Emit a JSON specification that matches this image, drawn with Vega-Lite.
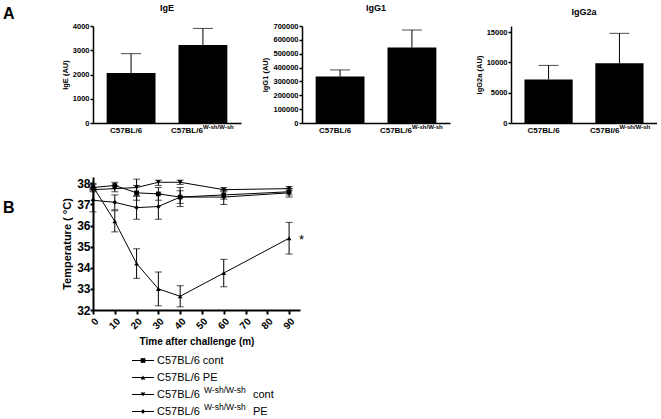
{
  "$schema": "https://vega.github.io/schema/vega-lite/v6.json",
  "padding": {"left": 3, "top": 4, "right": 0, "bottom": 0},
  "background": "white",
  "config": {
    "font": "Liberation Sans",
    "view": {"stroke": null},
    "axis": {"grid": false, "domainColor": "black", "tickColor": "black", "labelColor": "black", "titleColor": "black", "labelFont": "Liberation Sans", "titleFont": "Liberation Sans", "labelFontWeight": "bold", "titleFontWeight": "bold", "labelOverlap": false},
    "title": {"font": "Liberation Sans", "fontWeight": "bold", "color": "black"},
    "text": {"font": "Liberation Sans", "color": "black"}
  },
  "datasets": {
    "antibody": [
      {"panel": "IgE", "strain": "C57BL/6", "value": 2060, "upper": 2860, "sup": ""},
      {"panel": "IgE", "strain": "C57BL/6^W-sh/W-sh", "value": 3220, "upper": 3900, "sup": "W-sh/W-sh"},
      {"panel": "IgG1", "strain": "C57BL/6", "value": 335000, "upper": 383000, "sup": ""},
      {"panel": "IgG1", "strain": "C57BL/6^W-sh/W-sh", "value": 544000, "upper": 671000, "sup": "W-sh/W-sh"},
      {"panel": "IgG2a", "strain": "C57BL/6", "value": 7190, "upper": 9500, "sup": ""},
      {"panel": "IgG2a", "strain": "C57Bl/6^W-sh/W-sh", "value": 9860, "upper": 14790, "sup": "W-sh/W-sh"}
    ],
    "temperature": [
      {"group": "C57BL/6 cont", "time": 0, "temp": 37.8, "lo": 37.65, "hi": 37.95},
      {"group": "C57BL/6 cont", "time": 10, "temp": 37.9, "lo": 37.75, "hi": 38.05},
      {"group": "C57BL/6 cont", "time": 20, "temp": 37.55, "lo": 37.2, "hi": 37.9},
      {"group": "C57BL/6 cont", "time": 30, "temp": 37.5, "lo": 37.2, "hi": 37.8},
      {"group": "C57BL/6 cont", "time": 40, "temp": 37.35, "lo": 37.05, "hi": 37.65},
      {"group": "C57BL/6 cont", "time": 60, "temp": 37.45, "lo": 37.25, "hi": 37.65},
      {"group": "C57BL/6 cont", "time": 90, "temp": 37.6, "lo": 37.45, "hi": 37.75},
      {"group": "C57BL/6 PE", "time": 0, "temp": 37.85, "lo": 37.7, "hi": 38.0},
      {"group": "C57BL/6 PE", "time": 10, "temp": 36.2, "lo": 35.7, "hi": 36.7},
      {"group": "C57BL/6 PE", "time": 20, "temp": 34.2, "lo": 33.5, "hi": 34.9},
      {"group": "C57BL/6 PE", "time": 30, "temp": 33.0, "lo": 32.2, "hi": 33.8},
      {"group": "C57BL/6 PE", "time": 40, "temp": 32.65, "lo": 32.15, "hi": 33.15},
      {"group": "C57BL/6 PE", "time": 60, "temp": 33.75, "lo": 33.1, "hi": 34.4},
      {"group": "C57BL/6 PE", "time": 90, "temp": 35.4, "lo": 34.65, "hi": 36.15},
      {"group": "C57BL/6 W-sh/W-sh cont", "time": 0, "temp": 37.7, "lo": 37.6, "hi": 37.8},
      {"group": "C57BL/6 W-sh/W-sh cont", "time": 10, "temp": 37.75, "lo": 37.6, "hi": 37.9},
      {"group": "C57BL/6 W-sh/W-sh cont", "time": 20, "temp": 37.8, "lo": 37.4, "hi": 38.2},
      {"group": "C57BL/6 W-sh/W-sh cont", "time": 30, "temp": 38.05, "lo": 37.9, "hi": 38.15},
      {"group": "C57BL/6 W-sh/W-sh cont", "time": 40, "temp": 38.05, "lo": 37.95, "hi": 38.15},
      {"group": "C57BL/6 W-sh/W-sh cont", "time": 60, "temp": 37.7, "lo": 37.6, "hi": 37.8},
      {"group": "C57BL/6 W-sh/W-sh cont", "time": 90, "temp": 37.75, "lo": 37.65, "hi": 37.85},
      {"group": "C57BL/6 W-sh/W-sh PE", "time": 0, "temp": 37.2, "lo": 36.65, "hi": 37.75},
      {"group": "C57BL/6 W-sh/W-sh PE", "time": 10, "temp": 37.1, "lo": 36.75, "hi": 37.45},
      {"group": "C57BL/6 W-sh/W-sh PE", "time": 20, "temp": 36.85, "lo": 36.3, "hi": 37.4},
      {"group": "C57BL/6 W-sh/W-sh PE", "time": 30, "temp": 36.9, "lo": 36.3, "hi": 37.5},
      {"group": "C57BL/6 W-sh/W-sh PE", "time": 40, "temp": 37.35, "lo": 36.9, "hi": 37.8},
      {"group": "C57BL/6 W-sh/W-sh PE", "time": 60, "temp": 37.35, "lo": 37.0, "hi": 37.7},
      {"group": "C57BL/6 W-sh/W-sh PE", "time": 90, "temp": 37.55, "lo": 37.35, "hi": 37.75}
    ],
    "legendrows": [
      {"group": "C57BL/6 cont", "main": "C57BL/6 cont", "sup": "", "suffix": ""},
      {"group": "C57BL/6 PE", "main": "C57BL/6 PE", "sup": "", "suffix": ""},
      {"group": "C57BL/6 W-sh/W-sh cont", "main": "C57BL/6", "sup": "W-sh/W-sh", "suffix": "cont"},
      {"group": "C57BL/6 W-sh/W-sh PE", "main": "C57BL/6", "sup": "W-sh/W-sh", "suffix": "PE"}
    ]
  },
  "spacing": 43,
  "vconcat": [
    {
      "title": {"text": "A", "anchor": "start", "frame": "group", "fontSize": 16, "dx": -90, "dy": 18, "offset": 0},
      "bounds": "flush",
      "spacing": 61,
      "hconcat": [
        {
          "width": 148, "height": 97,
          "title": {"text": "IgE", "fontSize": 9, "offset": 9, "frame": "group"},
          "data": {"name": "antibody"},
          "transform": [{"filter": "datum.panel === 'IgE'"}],
          "encoding": {
            "x": {"field": "strain", "type": "nominal", "sort": null, "scale": {"paddingInner": 0.32, "paddingOuter": 0.19},
              "axis": {"title": null, "labelExpr": "split(datum.value, '^')[0]", "labelAngle": 0, "labelFontSize": 8, "ticks": false, "labelPadding": 3, "domainWidth": 1.5,
                "labelAlign": {"condition": {"test": "indexof(datum.value, '^') >= 0", "value": "right"}, "value": "center"},
                "labelOffset": {"condition": {"test": "indexof(datum.value, '^') >= 0", "value": 0}, "value": -5}}}
          },
          "layer": [
            {"mark": {"type": "bar", "color": "black"},
             "encoding": {"y": {"field": "value", "type": "quantitative", "title": "IgE (AU)", "scale": {"domain": [0, 4000]},
               "axis": {"values": [0, 1000, 2000, 3000, 4000], "format": "d", "labelFontSize": 7.5, "titleFontSize": 7.5, "tickSize": 3, "labelPadding": 1, "titlePadding": 3, "domainWidth": 1.5, "tickWidth": 1.5}}}},
            {"mark": {"type": "rule", "color": "black", "strokeWidth": 1}, "encoding": {"y": {"field": "value", "type": "quantitative", "title": "IgE (AU)",
               "axis": {"values": [0, 1000, 2000, 3000, 4000], "format": "d", "labelFontSize": 7.5, "titleFontSize": 7.5, "tickSize": 3, "labelPadding": 1, "titlePadding": 3, "domainWidth": 1.5, "tickWidth": 1.5}}, "y2": {"field": "upper"}}},
            {"mark": {"type": "tick", "orient": "horizontal", "size": 20, "thickness": 1, "color": "black"}, "encoding": {"y": {"field": "upper", "type": "quantitative", "title": "IgE (AU)",
               "axis": {"values": [0, 1000, 2000, 3000, 4000], "format": "d", "labelFontSize": 7.5, "titleFontSize": 7.5, "tickSize": 3, "labelPadding": 1, "titlePadding": 3, "domainWidth": 1.5, "tickWidth": 1.5}}}},
            {"mark": {"type": "text", "align": "left", "baseline": "top", "fontSize": 6, "fontWeight": "bold", "dy": 1}, "encoding": {"y": {"datum": 0, "type": "quantitative", "title": "IgE (AU)",
               "axis": {"values": [0, 1000, 2000, 3000, 4000], "format": "d", "labelFontSize": 7.5, "titleFontSize": 7.5, "tickSize": 3, "labelPadding": 1, "titlePadding": 3, "domainWidth": 1.5, "tickWidth": 1.5}}, "text": {"field": "sup"}}}
          ]
        },
        {
          "width": 148, "height": 97,
          "title": {"text": "IgG1", "fontSize": 9, "offset": 9, "frame": "group"},
          "data": {"name": "antibody"},
          "transform": [{"filter": "datum.panel === 'IgG1'"}],
          "encoding": {
            "x": {"field": "strain", "type": "nominal", "sort": null, "scale": {"paddingInner": 0.32, "paddingOuter": 0.19},
              "axis": {"title": null, "labelExpr": "split(datum.value, '^')[0]", "labelAngle": 0, "labelFontSize": 8, "ticks": false, "labelPadding": 3, "domainWidth": 1.5,
                "labelAlign": {"condition": {"test": "indexof(datum.value, '^') >= 0", "value": "right"}, "value": "center"},
                "labelOffset": {"condition": {"test": "indexof(datum.value, '^') >= 0", "value": 0}, "value": -5}}}
          },
          "layer": [
            {"mark": {"type": "bar", "color": "black"},
             "encoding": {"y": {"field": "value", "type": "quantitative", "title": "IgG1 (AU)", "scale": {"domain": [0, 700000]},
               "axis": {"values": [0, 100000, 200000, 300000, 400000, 500000, 600000, 700000], "format": "d", "labelFontSize": 7.5, "titleFontSize": 7.5, "tickSize": 3, "labelPadding": 1, "titlePadding": 3, "domainWidth": 1.5, "tickWidth": 1.5}}}},
            {"mark": {"type": "rule", "color": "black", "strokeWidth": 1}, "encoding": {"y": {"field": "value", "type": "quantitative", "title": "IgG1 (AU)",
               "axis": {"values": [0, 100000, 200000, 300000, 400000, 500000, 600000, 700000], "format": "d", "labelFontSize": 7.5, "titleFontSize": 7.5, "tickSize": 3, "labelPadding": 1, "titlePadding": 3, "domainWidth": 1.5, "tickWidth": 1.5}}, "y2": {"field": "upper"}}},
            {"mark": {"type": "tick", "orient": "horizontal", "size": 20, "thickness": 1, "color": "black"}, "encoding": {"y": {"field": "upper", "type": "quantitative", "title": "IgG1 (AU)",
               "axis": {"values": [0, 100000, 200000, 300000, 400000, 500000, 600000, 700000], "format": "d", "labelFontSize": 7.5, "titleFontSize": 7.5, "tickSize": 3, "labelPadding": 1, "titlePadding": 3, "domainWidth": 1.5, "tickWidth": 1.5}}}},
            {"mark": {"type": "text", "align": "left", "baseline": "top", "fontSize": 6, "fontWeight": "bold", "dy": 1}, "encoding": {"y": {"datum": 0, "type": "quantitative", "title": "IgG1 (AU)",
               "axis": {"values": [0, 100000, 200000, 300000, 400000, 500000, 600000, 700000], "format": "d", "labelFontSize": 7.5, "titleFontSize": 7.5, "tickSize": 3, "labelPadding": 1, "titlePadding": 3, "domainWidth": 1.5, "tickWidth": 1.5}}, "text": {"field": "sup"}}}
          ]
        },
        {
          "width": 146, "height": 97,
          "title": {"text": "IgG2a", "fontSize": 9, "offset": 9, "frame": "group"},
          "data": {"name": "antibody"},
          "transform": [{"filter": "datum.panel === 'IgG2a'"}],
          "encoding": {
            "x": {"field": "strain", "type": "nominal", "sort": null, "scale": {"paddingInner": 0.32, "paddingOuter": 0.19},
              "axis": {"title": null, "labelExpr": "split(datum.value, '^')[0]", "labelAngle": 0, "labelFontSize": 8, "ticks": false, "labelPadding": 3, "domainWidth": 1.5,
                "labelAlign": {"condition": {"test": "indexof(datum.value, '^') >= 0", "value": "right"}, "value": "center"},
                "labelOffset": {"condition": {"test": "indexof(datum.value, '^') >= 0", "value": 0}, "value": -5}}}
          },
          "layer": [
            {"mark": {"type": "bar", "color": "black"},
             "encoding": {"y": {"field": "value", "type": "quantitative", "title": "IgG2a (AU)", "scale": {"domain": [0, 15000]},
               "axis": {"values": [0, 5000, 10000, 15000], "format": "d", "labelFontSize": 7.5, "titleFontSize": 7.5, "tickSize": 3, "labelPadding": 1, "titlePadding": 3, "domainWidth": 1.5, "tickWidth": 1.5}}}},
            {"mark": {"type": "rule", "color": "black", "strokeWidth": 1}, "encoding": {"y": {"field": "value", "type": "quantitative", "title": "IgG2a (AU)",
               "axis": {"values": [0, 5000, 10000, 15000], "format": "d", "labelFontSize": 7.5, "titleFontSize": 7.5, "tickSize": 3, "labelPadding": 1, "titlePadding": 3, "domainWidth": 1.5, "tickWidth": 1.5}}, "y2": {"field": "upper"}}},
            {"mark": {"type": "tick", "orient": "horizontal", "size": 20, "thickness": 1, "color": "black"}, "encoding": {"y": {"field": "upper", "type": "quantitative", "title": "IgG2a (AU)",
               "axis": {"values": [0, 5000, 10000, 15000], "format": "d", "labelFontSize": 7.5, "titleFontSize": 7.5, "tickSize": 3, "labelPadding": 1, "titlePadding": 3, "domainWidth": 1.5, "tickWidth": 1.5}}}},
            {"mark": {"type": "text", "align": "left", "baseline": "top", "fontSize": 6, "fontWeight": "bold", "dy": 1}, "encoding": {"y": {"datum": 0, "type": "quantitative", "title": "IgG2a (AU)",
               "axis": {"values": [0, 5000, 10000, 15000], "format": "d", "labelFontSize": 7.5, "titleFontSize": 7.5, "tickSize": 3, "labelPadding": 1, "titlePadding": 3, "domainWidth": 1.5, "tickWidth": 1.5}}, "text": {"field": "sup"}}}
          ]
        }
      ]
    },
    {
      "spacing": 4,
      "vconcat": [
        {
          "width": 207, "height": 133,
          "title": {"text": "B", "anchor": "start", "frame": "group", "fontSize": 16, "dx": -90, "dy": 43},
          "data": {"name": "temperature"},
          "encoding": {
            "x": {"field": "time", "type": "quantitative", "title": "Time after challenge (m)", "scale": {"domain": [0, 95]},
              "axis": {"values": [0, 10, 20, 30, 40, 50, 60, 70, 80, 90], "labelAngle": -45, "labelFontSize": 10, "titleFontSize": 10, "tickSize": 4, "tickWidth": 2, "domainWidth": 2, "labelPadding": 2, "titlePadding": 6}},
            "y": {"field": "temp", "type": "quantitative", "title": "Temperature ( °C)", "scale": {"domain": [32, 38.3]},
              "axis": {"values": [32, 33, 34, 35, 36, 37, 38], "labelFontSize": 12, "titleFontSize": 11, "tickSize": 3, "tickWidth": 2, "domainWidth": 2, "labelPadding": 0, "titlePadding": 4}}
          },
          "layer": [
            {"mark": {"type": "line", "color": "black", "strokeWidth": 1}, "encoding": {"detail": {"field": "group"}}},
            {"mark": {"type": "rule", "color": "black", "strokeWidth": 1}, "encoding": {"y": {"field": "lo", "type": "quantitative", "title": "Temperature ( °C)",
               "axis": {"values": [32, 33, 34, 35, 36, 37, 38], "labelFontSize": 12, "titleFontSize": 11, "tickSize": 3, "tickWidth": 2, "domainWidth": 2, "labelPadding": 0, "titlePadding": 4}}, "y2": {"field": "hi"}}},
            {"mark": {"type": "tick", "orient": "horizontal", "size": 7, "thickness": 1, "color": "black"}, "encoding": {"y": {"field": "lo", "type": "quantitative", "title": "Temperature ( °C)",
               "axis": {"values": [32, 33, 34, 35, 36, 37, 38], "labelFontSize": 12, "titleFontSize": 11, "tickSize": 3, "tickWidth": 2, "domainWidth": 2, "labelPadding": 0, "titlePadding": 4}}}},
            {"mark": {"type": "tick", "orient": "horizontal", "size": 7, "thickness": 1, "color": "black"}, "encoding": {"y": {"field": "hi", "type": "quantitative", "title": "Temperature ( °C)",
               "axis": {"values": [32, 33, 34, 35, 36, 37, 38], "labelFontSize": 12, "titleFontSize": 11, "tickSize": 3, "tickWidth": 2, "domainWidth": 2, "labelPadding": 0, "titlePadding": 4}}}},
            {"mark": {"type": "point", "filled": true, "opacity": 1, "color": "black", "size": 22},
             "encoding": {"shape": {"field": "group", "type": "nominal", "legend": null,
               "scale": {"domain": ["C57BL/6 cont", "C57BL/6 PE", "C57BL/6 W-sh/W-sh cont", "C57BL/6 W-sh/W-sh PE"], "range": ["square", "triangle-up", "triangle-down", "diamond"]}}}},
            {"data": {"values": [{"time": 90, "temp": 35.5, "note": "*"}]},
             "mark": {"type": "text", "align": "left", "baseline": "middle", "dx": 10, "dy": 4, "fontSize": 13},
             "encoding": {"text": {"field": "note"}}}
          ]
        },
        {
          "width": 200, "height": 68,
          "data": {"name": "legendrows"},
          "encoding": {
            "y": {"field": "group", "type": "nominal", "sort": null, "scale": {"type": "point", "padding": 0.5}, "axis": null}
          },
          "layer": [
            {"mark": {"type": "rule", "color": "black", "strokeWidth": 1},
             "encoding": {"x": {"datum": 39, "type": "quantitative", "scale": {"domain": [0, 200]}, "axis": null}, "x2": {"datum": 61}}},
            {"mark": {"type": "point", "filled": true, "opacity": 1, "color": "black", "size": 22},
             "encoding": {"x": {"datum": 50, "type": "quantitative", "axis": null},
               "shape": {"field": "group", "type": "nominal", "legend": null,
                 "scale": {"domain": ["C57BL/6 cont", "C57BL/6 PE", "C57BL/6 W-sh/W-sh cont", "C57BL/6 W-sh/W-sh PE"], "range": ["square", "triangle-up", "triangle-down", "diamond"]}}}},
            {"mark": {"type": "text", "align": "left", "baseline": "middle", "fontSize": 11},
             "encoding": {"x": {"datum": 64, "type": "quantitative", "axis": null}, "text": {"field": "main"}}},
            {"mark": {"type": "text", "align": "left", "baseline": "middle", "fontSize": 8.5, "dy": -5},
             "encoding": {"x": {"datum": 111, "type": "quantitative", "axis": null}, "text": {"field": "sup"}}},
            {"mark": {"type": "text", "align": "left", "baseline": "middle", "fontSize": 11},
             "encoding": {"x": {"datum": 160, "type": "quantitative", "axis": null}, "text": {"field": "suffix"}}}
          ]
        }
      ]
    }
  ]
}
